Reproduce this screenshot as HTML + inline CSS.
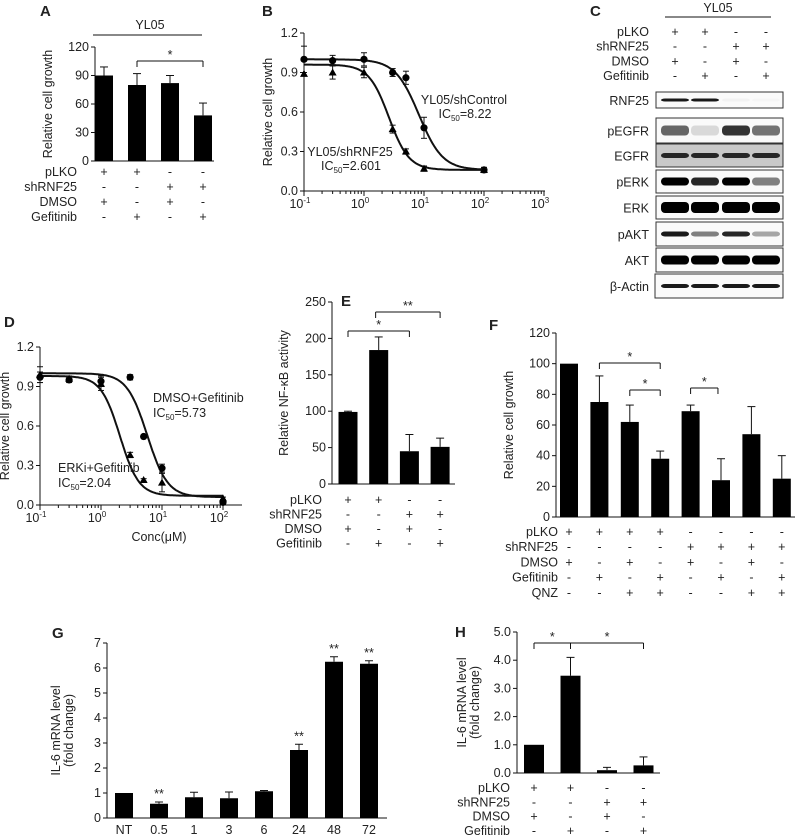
<!DOCTYPE html>
<html><head><meta charset="utf-8">
<style>
html,body{margin:0;padding:0;background:#fff;}
svg{display:block;font-family:"Liberation Sans",Arial,sans-serif;}
text{fill:#222;}
.lbl{font-size:12.5px;}
.tk{font-size:12.5px;}
.pl{font-size:15px;font-weight:bold;}
</style></head>
<body>
<svg id="fig" width="796" height="836" viewBox="0 0 796 836" xmlns="http://www.w3.org/2000/svg"></svg>
<script>
// ---------- DATA ----------
const aValues=[90,80,82,48];
const aErr=[9,12,8,13];
const aTicks=[0,30,60,90,120];
const condRows4=["pLKO","shRNF25","DMSO","Gefitinib"];
const condSigns4=[["+","+","-","-"],["-","-","+","+"],["+","-","+","-"],["-","+","-","+"]];

const bX=[0.1,0.3,1,3,5,10,100];
const bCtrl=[1.0,0.99,1.0,0.90,0.86,0.48,0.16];
const bCtrlErr=[0.1,0.04,0.05,0.03,0.05,0.08,0.02];
const bSh=[0.89,0.9,0.9,0.47,0.3,0.17,0.16];
const bShErr=[0.01,0.05,0.04,0.03,0.02,0.02,0.01];
const bTicks=[0,0.3,0.6,0.9,1.2];
const bTickLabels=["0.0","0.3","0.6","0.9","1.2"];
const bIC=[8.22,2.601];

const cProteins=["RNF25","pEGFR","EGFR","pERK","ERK","pAKT","AKT","β-Actin"];
const cIntensity=[[0.9,0.9,0.05,0.04],[0.6,0.15,0.8,0.55],[0.85,0.85,0.85,0.85],[1,0.85,1,0.5],[1,1,1,1],[0.9,0.5,0.85,0.35],[1,1,1,1],[0.9,0.9,0.9,0.9]];

const dX=[0.1,0.3,1,3,5,10,100];
const dDmso=[0.97,0.95,0.94,0.97,0.52,0.28,0.02];
const dDmsoErr=[0.04,0.02,0.04,0.02,0.01,0.03,0.01];
const dErk=[0.99,0.96,0.92,0.38,0.19,0.17,0.05];
const dErkErr=[0.06,0.02,0.05,0.02,0.01,0.07,0.01];
const dIC=[5.73,2.04];

const eValues=[99,184,45,51];
const eErr=[1,18,23,12];
const eTicks=[0,50,100,150,200,250];

const fValues=[100,75,62,38,69,24,54,25];
const fErr=[0,17,11,5,4,14,18,15];
const fTicks=[0,20,40,60,80,100,120];
const fRows=["pLKO","shRNF25","DMSO","Gefitinib","QNZ"];
const fSigns=[["+","+","+","+","-","-","-","-"],["-","-","-","-","+","+","+","+"],["+","-","+","-","+","-","+","-"],["-","+","-","+","-","+","-","+"],["-","-","+","+","-","-","+","+"]];

const gCats=["NT","0.5","1","3","6","24","48","72"];
const gValues=[1,0.57,0.83,0.79,1.07,2.72,6.25,6.17];
const gErr=[0,0.07,0.2,0.25,0.03,0.23,0.2,0.12];
const gSig=["","**","","","","**","**","**"];
const gTicks=[0,1,2,3,4,5,6,7];

const hValues=[1,3.45,0.1,0.27];
const hErr=[0,0.65,0.1,0.3];
const hTicks=[0,1,2,3,4,5];
const hTickLabels=["0.0","1.0","2.0","3.0","4.0","5.0"];

// ---------- HELPERS ----------
const NS="http://www.w3.org/2000/svg";
const fig=document.getElementById('fig');
function el(tag,attrs,parent,txt){const e=document.createElementNS(NS,tag);for(const k in attrs)e.setAttribute(k,attrs[k]);if(txt!==undefined)e.textContent=txt;(parent||fig).appendChild(e);return e;}
function grp(name){const g=el('g',{});


return g;}
function line(g,x1,y1,x2,y2,w){return el('line',{x1,y1,x2,y2,stroke:'#111','stroke-width':w||1},g);}
function txt(g,x,y,s,anchor,cls,name){const t=el('text',{x,y,'text-anchor':anchor||'middle',class:cls||'lbl'},g,s);


return t;}
function ytitle(g,x,y,s){const t=el('text',{x:0,y:0,transform:`translate(${x},${y}) rotate(-90)`,'text-anchor':'middle',class:'lbl'},g,s);


return t;}
function panelLetter(x,y,s){const t=el('text',{x,y,class:'pl'},fig,s);

}

function barChart(o){
  const g=grp(o.name);
  const ys=v=>o.y0-(v-o.vmin)/(o.vmax-o.vmin)*(o.y0-o.y1);
  line(g,o.ax,o.y1,o.ax,o.y0);
  line(g,o.ax,o.y0,o.axEnd,o.y0);
  o.ticks.forEach((t,i)=>{const y=ys(t);line(g,o.ax-4,y,o.ax,y);
    txt(g,o.ax-6,y+4,o.tickLabels?o.tickLabels[i]:String(t),'end','tk','y-tick-label');});
  o.values.forEach((v,i)=>{
    const cx=o.centers0+i*o.step, y=ys(v);
    const r=el('rect',{x:cx-o.bw/2,y:y,width:o.bw,height:o.y0-y,fill:'#000'},g);
    
    
    const e=o.err[i];
    if(e>0){const ye=ys(v+e);line(g,cx,y,cx,ye);line(g,cx-4,ye,cx+4,ye);}
    if(o.sig&&o.sig[i]){txt(g,cx,ys(v+e)-4,o.sig[i],'middle','lbl','significance-mark');}
    if(o.cats){txt(g,cx,o.catY,o.cats[i],'middle','tk','x-tick-label');}
    if(o.rows){o.rows.forEach((r2,ri)=>{txt(g,cx,o.rowY0+ri*o.rowStep+4,o.signs[ri][i],'middle','lbl','condition-sign');});}
  });
  if(o.rows){o.rows.forEach((r2,ri)=>txt(g,o.rowLabelX,o.rowY0+ri*o.rowStep+4,r2,'end','lbl','condition-label'));}
  (o.brackets||[]).forEach(b=>{
    const xa=o.centers0+b[0]*o.step, xb=o.centers0+b[1]*o.step, y=b[2];
    line(g,xa,y+6,xa,y);line(g,xa,y,xb,y);line(g,xb,y,xb,y+6);
    txt(g,(xa+xb)/2,y-2,b[3],'middle','lbl','significance-bracket');
  });
  ytitle(g,o.titleX,(o.y0+o.y1)/2,o.title);
  if(o.title2) ytitle(g,o.titleX+13,(o.y0+o.y1)/2,o.title2);
  return g;
}

function hill(x,top,bot,ic,h){return bot+(top-bot)/(1+Math.pow(x/ic,h));}
function doseChart(o){
  const g=grp(o.name);
  const xs=x=>o.x0+(Math.log10(x)-o.dmin)*o.dec;
  const ys=v=>o.y0-v/1.2*(o.y0-o.y1);
  line(g,o.x0,o.y1,o.x0,o.y0);
  line(g,o.x0,o.y0,o.xEnd,o.y0);
  bTicks.forEach((t,i)=>{const y=ys(t);line(g,o.x0-4,y,o.x0,y);txt(g,o.x0-6,y+4,bTickLabels[i],'end','tk','y-tick-label');});
  for(let d=o.dmin;d<=o.dmax;d++){
    const x=xs(Math.pow(10,d));line(g,x,o.y0,x,o.y0+5);
    const t=el('text',{x:x-4,y:o.y0+17,'text-anchor':'middle',class:'tk'},g);
    
    
    t.textContent='10';el('tspan',{dy:-5,'font-size':'8'},t,String(d));
    if(d<o.dmax){for(let m=2;m<10;m++){const xm=xs(m*Math.pow(10,d));if(xm<=o.xEnd)line(g,xm,o.y0,xm,o.y0+3);}}
  }
  o.series.forEach((s,si)=>{
    let p='';for(let k=0;k<=200;k++){const lx=o.dmin+k*(Math.log10(100)-o.dmin)/200;const x=Math.pow(10,lx);p+=(k?'L':'M')+xs(x).toFixed(1)+','+ys(hill(x,s.top,s.bot,s.ic,s.h)).toFixed(1);}
    const pa=el('path',{d:p,fill:'none',stroke:'#111','stroke-width':2},g);
    
    
    s.xs.forEach((x,i)=>{
      const cx=xs(x),cy=ys(s.vals[i]),e=s.err[i];
      const y1=ys(s.vals[i]+e),y2=ys(s.vals[i]-e);
      line(g,cx,y1,cx,y2);line(g,cx-3,y1,cx+3,y1);line(g,cx-3,y2,cx+3,y2);
      let m;
      if(s.marker==='circle'){m=el('circle',{cx,cy,r:3.6,fill:'#000'},g);}
      else{m=el('polygon',{points:`${cx},${cy-4} ${cx-4},${cy+3} ${cx+4},${cy+3}`,fill:'#000'},g);}
      
      
    });
  });
  ytitle(g,o.titleX,(o.y0+o.y1)/2,'Relative  cell growth');
  return g;
}
function icText(g,x,y,val,anchor){const t=el('text',{x,y,'text-anchor':anchor,class:'lbl'},g);
  
  
  t.textContent='IC';el('tspan',{'font-size':'8',dy:3},t,'50');el('tspan',{dy:-3},t,'='+val);}

// ---------- PANEL A ----------
panelLetter(40,16,'A');
{const g=grp('panel-a-header');txt(g,150,29,'YL05','middle','lbl','cell-line-label');line(g,93,35,202,35);}
barChart({name:'panel-a-chart',ax:95,axEnd:214,y0:161,y1:47,vmin:0,vmax:120,ticks:aTicks,values:aValues,err:aErr,
  centers0:104,step:33,bw:18,rows:condRows4,signs:condSigns4,rowY0:172,rowStep:15,rowLabelX:77,
  brackets:[[1,3,61,'*']],titleX:52,title:'Relative  cell growth'});

// ---------- PANEL B ----------
panelLetter(262,16,'B');
{const g=doseChart({name:'panel-b-chart',x0:304,xEnd:545,y0:191,y1:33,dmin:-1,dmax:3,dec:60,titleX:272,
 series:[{key:'shcontrol',xs:bX,vals:bCtrl,err:bCtrlErr,top:1.0,bot:0.16,ic:bIC[0],h:2.2,marker:'circle'},
         {key:'shrnf25',xs:bX,vals:bSh,err:bShErr,top:0.96,bot:0.16,ic:bIC[1],h:2.6,marker:'tri'}]});
 txt(g,464,104,'YL05/shControl','middle','lbl','series-label');icText(g,465,118,bIC[0].toFixed(2),'middle');
 txt(g,350,156,'YL05/shRNF25','middle','lbl','series-label');icText(g,351,170,String(bIC[1]),'middle');}

// ---------- PANEL C ----------
panelLetter(590,16,'C');
{const g=grp('panel-c-western-blot');
 txt(g,718,12,'YL05','middle','lbl','cell-line-label');line(g,665,17,771,17);
 const cols=[675,705,736,766];
 condRows4.forEach((r,ri)=>{txt(g,649,36+ri*14.7,r,'end','lbl','condition-label');
   cols.forEach((c,ci)=>txt(g,c,36+ri*14.7,condSigns4[ri][ci],'middle','lbl','condition-sign'));});
 const rowsY=[[92,108],[118,143],[144,167],[170,193],[196,219],[222,246],[248,272],[274,298]];
 const bandH=[3,10,5,8,11,5,9,4];
 cProteins.forEach((p,pi)=>{
   const [yt,yb]=rowsY[pi];const x0=pi===7?655:656;
   const box=el('rect',{x:x0,y:yt,width:783-x0,height:yb-yt,fill:pi===2?'#c9c9c9':'#fafafa',stroke:'#333','stroke-width':1},g);
   
   
   txt(g,649,(yt+yb)/2+5,p,'end','lbl','protein-label');
   cols.forEach((c,ci)=>{const it=cIntensity[pi][ci];const sh=Math.round(255*(1-it));
     const b=el('rect',{x:c-14,y:(yt+yb)/2-bandH[pi]/2,width:28,height:bandH[pi],rx:4,fill:`rgb(${sh},${sh},${sh})`},g);
     
     });
 });}

// ---------- PANEL D ----------
panelLetter(4,327,'D');
{const g=doseChart({name:'panel-d-chart',x0:40,xEnd:242,y0:505,y1:347,dmin:-1,dmax:2,dec:61,titleX:9,
 series:[{key:'dmso-gefitinib',xs:dX,vals:dDmso,err:dDmsoErr,top:1.0,bot:0.06,ic:dIC[0],h:2.6,marker:'circle'},
         {key:'erki-gefitinib',xs:dX,vals:dErk,err:dErkErr,top:0.98,bot:0.07,ic:dIC[1],h:2.8,marker:'tri'}]});
 txt(g,153,402,'DMSO+Gefitinib','start','lbl','series-label');icText(g,153,417,dIC[0].toFixed(2),'start');
 txt(g,58,472,'ERKi+Gefitinib','start','lbl','series-label');icText(g,58,487,dIC[1].toFixed(2),'start');
 txt(g,159,541,'Conc(μM)','middle','lbl','x-axis-title');}

// ---------- PANEL E ----------
panelLetter(341,306,'E');
barChart({name:'panel-e-chart',ax:332,axEnd:455,y0:484,y1:302,vmin:0,vmax:250,ticks:eTicks,values:eValues,err:eErr,
  centers0:348,step:30.7,bw:19,rows:condRows4,signs:condSigns4,rowY0:500,rowStep:14.5,rowLabelX:322,
  brackets:[[0,2,331,'*'],[0.9,3,312,'**']],titleX:288,title:'Relative NF-κB activity'});

// ---------- PANEL F ----------
panelLetter(489,330,'F');
barChart({name:'panel-f-chart',ax:556,axEnd:795,y0:517,y1:333,vmin:0,vmax:120,ticks:fTicks,values:fValues,err:fErr,
  centers0:569,step:30.4,bw:18,rows:fRows,signs:fSigns,rowY0:532,rowStep:15.2,rowLabelX:558,
  brackets:[[1,3,363,'*'],[2,3,390,'*'],[4,4.9,388,'*']],titleX:513,title:'Relative cell growth'});

// ---------- PANEL G ----------
panelLetter(52,638,'G');
barChart({name:'panel-g-chart',ax:107,axEnd:387,y0:818,y1:643,vmin:0,vmax:7,ticks:gTicks,values:gValues,err:gErr,sig:gSig,
  centers0:124,step:35,bw:18,cats:gCats,catY:834,titleX:60,title:'IL-6 mRNA level',title2:'(fold change)'});

// ---------- PANEL H ----------
panelLetter(455,637,'H');
barChart({name:'panel-h-chart',ax:517,axEnd:660,y0:773,y1:632,vmin:0,vmax:5,ticks:hTicks,tickLabels:hTickLabels,values:hValues,err:hErr,
  centers0:534,step:36.5,bw:20,rows:condRows4,signs:condSigns4,rowY0:788,rowStep:14.3,rowLabelX:510,
  brackets:[[0,1,643,'*'],[1,3,643,'*']],titleX:466,title:'IL-6 mRNA level',title2:'(fold change)'});
</script>
</body></html>
